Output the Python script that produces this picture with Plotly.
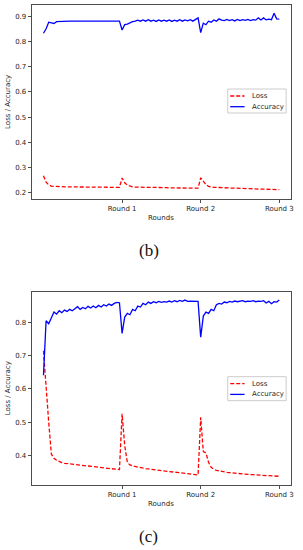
import plotly.graph_objects as go

# ---------------- data ----------------
n_steps = 91
steps = list(range(n_steps))
round_ticks = [30, 60, 90]
round_labels = ["Round 1", "Round 2", "Round 3"]
series_names = ["Loss", "Accuracy"]

# (b) panel
acc_b = [0.832, 0.850, 0.876, 0.872, 0.871, 0.878, 0.879, 0.880, 0.880, 0.881,
         0.880, 0.880, 0.881, 0.880, 0.880, 0.880, 0.880, 0.881, 0.880, 0.880,
         0.880, 0.880, 0.880, 0.880, 0.881, 0.880, 0.880, 0.882, 0.880, 0.880,
         0.845, 0.866, 0.868, 0.874, 0.878, 0.880, 0.884, 0.880, 0.885, 0.880,
         0.886, 0.880, 0.884, 0.879, 0.885, 0.880, 0.884, 0.880, 0.885, 0.879,
         0.884, 0.880, 0.886, 0.880, 0.885, 0.881, 0.886, 0.880, 0.887, 0.893,
         0.835, 0.872, 0.866, 0.880, 0.876, 0.885, 0.880, 0.889, 0.884, 0.882,
         0.887, 0.882, 0.886, 0.881, 0.887, 0.882, 0.886, 0.883, 0.887, 0.882,
         0.886, 0.884, 0.893, 0.885, 0.893, 0.885, 0.888, 0.886, 0.911, 0.889,
         0.888]
loss_b = [0.268, 0.243, 0.232, 0.227, 0.226, 0.225, 0.225, 0.225, 0.225, 0.224,
          0.224, 0.224, 0.224, 0.224, 0.224, 0.224, 0.223, 0.223, 0.223, 0.223,
          0.223, 0.223, 0.223, 0.223, 0.222, 0.222, 0.222, 0.222, 0.222, 0.222,
          0.259, 0.240, 0.231, 0.226, 0.224, 0.223, 0.223, 0.222, 0.222, 0.222,
          0.222, 0.222, 0.221, 0.221, 0.221, 0.221, 0.221, 0.221, 0.220, 0.220,
          0.220, 0.220, 0.220, 0.220, 0.220, 0.219, 0.219, 0.219, 0.219, 0.219,
          0.260, 0.245, 0.233, 0.226, 0.223, 0.222, 0.222, 0.221, 0.221, 0.220,
          0.220, 0.219, 0.219, 0.219, 0.218, 0.218, 0.218, 0.217, 0.217, 0.217,
          0.216, 0.216, 0.216, 0.215, 0.215, 0.215, 0.214, 0.214, 0.214, 0.213,
          0.213]

# (c) panel
acc_c = [0.641, 0.804, 0.795, 0.815, 0.830, 0.824, 0.834, 0.828, 0.836, 0.832,
         0.838, 0.834, 0.840, 0.846, 0.838, 0.844, 0.840, 0.847, 0.842, 0.848,
         0.843, 0.850, 0.845, 0.852, 0.848, 0.854, 0.850, 0.856, 0.859, 0.858,
         0.766, 0.815, 0.826, 0.822, 0.838, 0.834, 0.848, 0.845, 0.856, 0.852,
         0.860, 0.856, 0.861, 0.858, 0.862, 0.859, 0.861, 0.860, 0.863, 0.860,
         0.864, 0.861, 0.865, 0.862, 0.866, 0.862, 0.863, 0.862, 0.863, 0.862,
         0.755, 0.818, 0.830, 0.826, 0.838, 0.834, 0.852, 0.856, 0.854, 0.860,
         0.858, 0.862, 0.860, 0.863, 0.861, 0.862, 0.864, 0.861, 0.863, 0.862,
         0.864, 0.861, 0.863, 0.862, 0.864, 0.857, 0.862, 0.855, 0.861, 0.860,
         0.866]
loss_c = [0.714, 0.600, 0.500, 0.405, 0.392, 0.386, 0.382, 0.379, 0.377, 0.376,
          0.375, 0.374, 0.373, 0.372, 0.371, 0.370, 0.369, 0.368, 0.367, 0.366,
          0.366, 0.365, 0.364, 0.363, 0.362, 0.361, 0.360, 0.360, 0.359, 0.358,
          0.525, 0.430, 0.380, 0.372, 0.369, 0.367, 0.365, 0.364, 0.362, 0.361,
          0.360, 0.359, 0.358, 0.357, 0.356, 0.355, 0.354, 0.353, 0.352, 0.352,
          0.351, 0.350, 0.349, 0.348, 0.347, 0.346, 0.345, 0.344, 0.343, 0.342,
          0.515, 0.412, 0.408, 0.380, 0.365, 0.359, 0.356, 0.354, 0.352, 0.351,
          0.350, 0.349, 0.348, 0.347, 0.346, 0.346, 0.345, 0.344, 0.344, 0.343,
          0.343, 0.342, 0.342, 0.341, 0.341, 0.340, 0.340, 0.339, 0.339, 0.338,
          0.338]

yticks_b = [0.2, 0.3, 0.4, 0.5, 0.6, 0.7, 0.8, 0.9]
yticks_c = [0.4, 0.5, 0.6, 0.7, 0.8]

# ---------------- figure ----------------
W, H = 303, 550
FONT = "DejaVu Sans"
TXT = "#262626"
SPINE = "#4d4d4d"
RED, BLUE = "#ff0000", "#0000ff"
RED_DASH = "4px,2px"

fig = go.Figure()
red_line = dict(color=RED, width=1.3, dash=RED_DASH)
blue_line = dict(color=BLUE, width=1.3)

fig.add_trace(go.Scatter(x=steps, y=loss_b, mode="lines", name=series_names[0],
                         line=red_line, xaxis="x", yaxis="y", showlegend=False))
fig.add_trace(go.Scatter(x=steps, y=acc_b, mode="lines", name=series_names[1],
                         line=blue_line, xaxis="x", yaxis="y", showlegend=False))
fig.add_trace(go.Scatter(x=steps, y=loss_c, mode="lines", name=series_names[0],
                         line=red_line, xaxis="x2", yaxis="y2", showlegend=False))
fig.add_trace(go.Scatter(x=steps, y=acc_c, mode="lines", name=series_names[1],
                         line=blue_line, xaxis="x2", yaxis="y2", showlegend=False))


def px_x(p):
    return p / W


def px_y(p):
    return 1 - p / H


common_axis = dict(showline=True, mirror=True, linecolor=SPINE, linewidth=1,
                   ticks="outside", ticklen=3, tickcolor=SPINE, tickwidth=1,
                   showgrid=False, zeroline=False,
                   tickfont=dict(family=FONT, size=7, color=TXT))
xdom = [px_x(32), px_x(294)]
xr = [-4.5, 94.5]

fig.update_layout(
    width=W, height=H,
    margin=dict(l=0, r=0, t=0, b=0),
    paper_bgcolor="white", plot_bgcolor="white",
    showlegend=False,
    xaxis=dict(domain=xdom, range=xr, tickvals=round_ticks, ticktext=round_labels,
               anchor="y", **common_axis),
    yaxis=dict(domain=[px_y(199), px_y(5)], range=[0.176, 0.944], tickvals=yticks_b,
               tickformat=".1f", anchor="x", **common_axis),
    xaxis2=dict(domain=xdom, range=xr, tickvals=round_ticks, ticktext=round_labels,
                anchor="y2", **common_axis),
    yaxis2=dict(domain=[px_y(485), px_y(291.7)], range=[0.312, 0.891], tickvals=yticks_c,
                tickformat=".1f", anchor="x2", **common_axis),
)

ann_font = dict(family=FONT, size=7, color=TXT)
cap_font = dict(family="Liberation Serif", size=17, color="#111")
annotations = [
    dict(text="Rounds", x=px_x(163), y=px_y(217.7), font=ann_font),
    dict(text="Rounds", x=px_x(163), y=px_y(504), font=ann_font),
    dict(text="Loss / Accuracy", x=px_x(8), y=px_y(102), textangle=-90, font=ann_font),
    dict(text="Loss / Accuracy", x=px_x(8), y=px_y(388.4), textangle=-90, font=ann_font),
    dict(text="(b)", x=px_x(150), y=px_y(250), font=cap_font),
    dict(text="(c)", x=px_x(150), y=px_y(536.7), font=cap_font),
]
for a in annotations:
    a.update(xanchor="center")

# legends (one per panel, matplotlib style box)
shapes = []
for top in (89, 376.7):
    shapes.append(dict(type="rect", xref="paper", yref="paper",
                       x0=px_x(230), x1=px_x(289), y0=px_y(top + 24), y1=px_y(top),
                       line=dict(color="#cccccc", width=1), fillcolor="white",
                       layer="above"))
    for k, (name, col, dash) in enumerate(zip(series_names, [RED, BLUE],
                                               [RED_DASH, "solid"])):
        yy = top + 7 + k * 10.7
        shapes.append(dict(type="line", xref="paper", yref="paper",
                           x0=px_x(232.5), x1=px_x(247), y0=px_y(yy), y1=px_y(yy),
                           line=dict(color=col, width=1.3, dash=dash), layer="above"))
        annotations.append(dict(text=name, x=px_x(252.5), y=px_y(yy), xanchor="left",
                                font=ann_font))

for a in annotations:
    a.update(xref="paper", yref="paper", yanchor="middle", showarrow=False)
    a.setdefault("xanchor", "center")

fig.update_layout(annotations=annotations, shapes=shapes)

fig.write_html("out.html", config={"displayModeBar": False},
               post_script="document.body.style.margin='0';")
